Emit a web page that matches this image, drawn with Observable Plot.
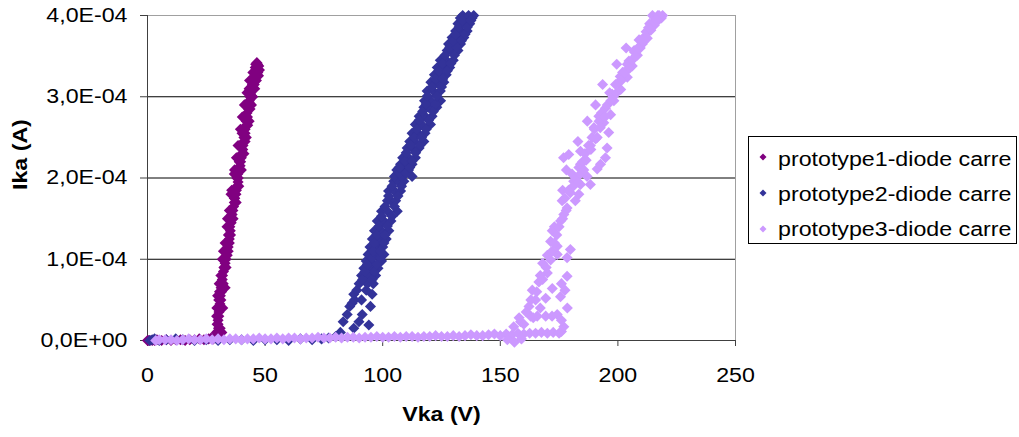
<!DOCTYPE html>
<html>
<head>
<meta charset="utf-8">
<script src="https://cdn.jsdelivr.net/npm/d3@7"></script>
<script src="https://cdn.jsdelivr.net/npm/@observablehq/plot@0.6"></script>
<style>
  html, body { margin: 0; padding: 0; background: #fff; }
  #wrap { position: relative; width: 1019px; height: 437px; font-family: "Liberation Sans", Arial, sans-serif; }
  #wrap svg.plot { position: absolute; left: 0; top: 0; }
  #legendBox { position: absolute; left: 748px; top: 136px; width: 269px; height: 108px; box-sizing: border-box; border: 1px solid #000; background: #fff; }
  .lrow { position: absolute; left: 778px; height: 24px; line-height: 24px; font-size: 20px; color: #000; white-space: nowrap; transform: scaleX(1.16); transform-origin: 0 50%; }
  .lmark { position: absolute; }
</style>
</head>
<body>
<div id="wrap"></div>
<script>
// ---- Data: Vka in V, Ika in units of 1E-04 A ----
const seriesNames = ["prototype1-diode carre", "prototype2-diode carre", "prototype3-diode carre"];
const seriesColors = ["#800080", "#333399", "#CC99FF"];

const xTicks = [0, 50, 100, 150, 200, 250];
const xTickLabels = ["0", "50", "100", "150", "200", "250"];
const yTicks = [0, 1, 2, 3, 4];
const yTickLabels = ["0,0E+00", "1,0E-04", "2,0E-04", "3,0E-04", "4,0E-04"];
const yGrid = [1, 2, 3];
const xTitle = "Vka (V)";
const yTitle = "Ika (A)";

// prototype1
const s1V = [0, 0.5, 1, 2, 3, 4, 6, 8, 10, 12, 14, 16, 18, 20, 22, 24, 26, 27, 28,
  29.0, 29.3, 30.2, 29.6, 30.0, 29.4, 30.4, 29.9, 30.8, 30.3, 31.0, 30.6, 31.3, 31.0, 31.8, 31.9, 32.3, 32.7, 33.0, 33.4,
  33.9, 33.5, 34.3, 34.0, 34.8, 34.4, 35.2, 35.0, 35.6, 35.4, 36.0, 36.3, 36.6, 36.9, 37.1, 37.6, 37.8, 38.0, 38.5, 38.6,
  38.4, 39.1, 39.4, 39.6, 39.9, 40.0, 40.5, 40.6, 40.9, 41.0, 41.5, 41.5, 42.0, 42.0, 42.5, 42.3, 43.0, 43.1, 43.3, 43.6,
  43.9, 44.1, 44.6, 45.0, 45.4, 45.9, 46.3, 46.8, 47.3, 46.9, 46.3, 45.6, 44.7, 44.2, 43.2, 42.0, 41.0, 39.9, 38.8, 37.7,
  36.4, 35.3, 34.3, 33.4, 32.2, 31.2, 30.3, 30.9, 31.6, 46.5, 47.6, 45.8, 47.2, 45.5, 44.5,
  30.0, 31.5, 32.5, 34.8, 35.8, 36.9, 38.0, 39.0, 41.5, 42.6, 43.6, 44.6, 45.4, 43.2, 42.3, 40.2, 37.0, 35.5, 34.0, 32.3, 31.2, 29.8,
  29.5, 30.5, 31.8, 33.0, 33.8, 34.8, 35.8, 36.9, 37.8, 38.5, 39.5, 40.3, 41.2, 42.3, 43.4, 44.8, 46.0, 47.0, 32.0, 33.0];
const s1I = [0, 0, 0, 0, 0, 0.01, 0, 0.01, 0, 0.01, 0.01, 0, 0.01, 0.01, 0.02, 0.01, 0.02, 0.03, 0.02,
  0.05, 0.10, 0.15, 0.20, 0.25, 0.30, 0.35, 0.40, 0.45, 0.50, 0.55, 0.60, 0.65, 0.70, 0.75, 0.80, 0.85, 0.90, 0.95, 1.00,
  1.05, 1.10, 1.15, 1.20, 1.25, 1.30, 1.35, 1.40, 1.45, 1.50, 1.55, 1.60, 1.65, 1.70, 1.75, 1.80, 1.85, 1.90, 1.95, 2.00,
  2.05, 2.10, 2.15, 2.20, 2.25, 2.30, 2.35, 2.40, 2.45, 2.50, 2.55, 2.60, 2.65, 2.70, 2.75, 2.80, 2.85, 2.90, 2.95, 3.00,
  3.05, 3.10, 3.15, 3.20, 3.25, 3.30, 3.35, 3.40, 3.38, 3.30, 3.20, 3.10, 3.00, 2.90, 2.70, 2.50, 2.30, 2.10, 1.90, 1.70,
  1.50, 1.30, 1.10, 0.90, 0.70, 0.50, 0.30, 0.15, 0.10, 3.42, 3.33, 3.36, 3.26, 3.22, 3.12,
  0.20, 0.60, 0.90, 1.20, 1.50, 1.75, 2.00, 2.20, 2.45, 2.65, 2.85, 3.00, 3.15, 3.10, 2.90, 2.55, 2.10, 1.80, 1.50, 1.10, 0.80, 0.55,
  0.40, 0.70, 1.00, 1.20, 1.40, 1.60, 1.85, 2.05, 2.25, 2.40, 2.60, 2.75, 2.90, 3.05, 3.20, 3.30, 3.40, 3.38, 0.40, 0.65];

// prototype2
const s2V = [1, 2, 3, 5, 8, 12, 15, 20, 25, 30, 35, 40, 45, 50, 55, 60, 65, 70, 74, 77, 80,
  82.0, 87.7, 94.1, 83.2, 89.9, 84.9, 91.3, 86.0, 94.8, 87.0, 88.0, 91.0, 87.7, 95.5, 89.0, 93.0,
  90.0, 93.5, 96.0, 91.0, 94.0, 97.0, 92.0, 95.0, 98.0, 93.0, 94.8, 99.5, 93.8, 97.0, 100.5,
  94.6, 98.0, 100.0, 95.6, 98.5, 101.5, 96.5, 99.5, 102.6, 97.7, 100.5, 103.5, 99.5, 102.0, 106.2,
  102.0, 103.5, 105.5, 102.5, 105.0, 107.6, 104.7, 106.5, 109.0, 105.0, 108.0, 112.5, 106.0, 109.0, 111.0,
  107.6, 110.0, 112.5, 108.5, 111.0, 113.9, 110.4, 112.5, 115.5, 111.5, 113.5, 117.5, 112.5, 115.0, 118.0,
  113.9, 116.5, 120.3, 115.5, 118.0, 121.0, 117.5, 119.5, 123.0, 117.8, 120.5, 124.6, 118.9, 121.5, 124.5,
  120.5, 123.0, 126.0, 122.0, 124.5, 127.0, 123.2, 126.0, 128.5, 124.5, 127.0, 130.0, 127.4, 129.0, 132.0,
  128.0, 130.5, 133.1, 129.5, 131.5, 134.5, 131.0, 133.0, 135.9, 132.0, 134.5, 137.0, 133.0, 135.5, 138.0,
  134.0, 136.5, 138.7,
  91.5, 95.5, 92.5, 96.5, 93.5, 97.5, 95.5, 99.0, 96.0, 99.0, 96.5, 100.5, 97.5, 101.0, 98.5, 102.0,
  99.5, 104.0, 101.0, 105.0, 102.5, 106.5, 104.0, 108.0, 107.0, 110.0, 107.0, 111.5, 109.5, 112.5,
  110.0, 114.0, 112.0, 116.0, 113.5, 116.5, 114.5, 118.5, 115.5, 119.5, 117.0, 121.5, 118.5, 122.5,
  119.0, 123.0, 121.0, 125.0, 122.5, 125.5, 124.0, 127.5, 125.5, 129.0, 126.5, 130.5, 128.5, 131.5,
  130.0, 133.5, 131.0, 135.0, 132.5, 136.0, 134.0, 137.5];
const s2I = [0, 0.01, 0.02, 0, 0.01, 0.02, 0.01, 0, 0.01, 0, 0.01, 0.01, 0, 0.01, 0.01, 0, 0.02, 0.01, 0.02, 0.03, 0.05,
  0.10, 0.15, 0.19, 0.23, 0.23, 0.32, 0.32, 0.42, 0.42, 0.46, 0.50, 0.50, 0.57, 0.57, 0.62, 0.62,
  0.70, 0.70, 0.70, 0.80, 0.80, 0.80, 0.89, 0.89, 0.89, 0.98, 0.98, 0.98, 1.06, 1.06, 1.06,
  1.15, 1.15, 1.15, 1.25, 1.25, 1.25, 1.35, 1.35, 1.35, 1.47, 1.47, 1.47, 1.59, 1.59, 1.59,
  1.72, 1.72, 1.72, 1.84, 1.84, 1.84, 1.96, 1.96, 1.96, 2.02, 2.02, 2.02, 2.10, 2.10, 2.10,
  2.17, 2.17, 2.17, 2.25, 2.25, 2.25, 2.37, 2.37, 2.37, 2.45, 2.45, 2.45, 2.55, 2.55, 2.55,
  2.66, 2.66, 2.66, 2.76, 2.76, 2.76, 2.87, 2.87, 2.87, 2.95, 2.95, 2.95, 3.07, 3.07, 3.07,
  3.18, 3.18, 3.18, 3.27, 3.27, 3.27, 3.36, 3.36, 3.36, 3.45, 3.45, 3.45, 3.57, 3.57, 3.57,
  3.65, 3.65, 3.65, 3.73, 3.73, 3.73, 3.81, 3.81, 3.81, 3.90, 3.90, 3.90, 3.97, 3.97, 3.97,
  4.00, 4.00, 4.00,
  0.75, 0.75, 0.85, 0.85, 0.94, 0.94, 1.02, 1.02, 1.10, 1.10, 1.20, 1.20, 1.30, 1.30, 1.41, 1.41,
  1.53, 1.53, 1.65, 1.65, 1.78, 1.78, 1.90, 1.90, 2.06, 2.06, 2.13, 2.13, 2.21, 2.21,
  2.31, 2.31, 2.41, 2.41, 2.50, 2.50, 2.60, 2.60, 2.71, 2.71, 2.82, 2.82, 2.91, 2.91,
  3.01, 3.01, 3.12, 3.12, 3.22, 3.22, 3.32, 3.32, 3.41, 3.41, 3.51, 3.51, 3.61, 3.61,
  3.69, 3.69, 3.77, 3.77, 3.86, 3.86, 3.94, 3.94];

// prototype3
const s3V = [3.5, 5, 7.5, 10, 12.5, 15, 17.5, 20, 22.5, 25, 27.5, 30, 32.5, 35, 37.5, 40, 42.5, 45, 47.5, 50,
  52.5, 55, 57.5, 60, 62.5, 65, 67.5, 70, 72.5, 75, 77.5, 80, 82.5, 85, 87.5, 90, 92.5, 95, 97.5, 100,
  102.5, 105, 107.5, 110, 112.5, 115, 117.5, 120, 122.5, 125, 127.5, 130, 132.5, 135, 137.5, 140, 142.5, 145, 147.5, 150,
  152.5, 155, 157.5, 160, 162.5, 165, 167.5, 170, 172.5, 175, 176, 153, 156, 159,
  155.7, 158.6, 162.2, 162.9, 165.7, 165.0, 169.3, 174.2, 177.0, 163.6, 166.4, 169.3, 172.1, 175.6, 178.4,
  170.0, 171.4, 174.2, 179.8, 178.4, 171.4, 174.2, 172.1, 175.6, 177.0, 178.4, 176.3, 181.9, 183.4, 179.8,
  181.2, 184.1, 188.3, 186.9, 183.4, 191.2, 192.6, 194.7, 184.1, 185.6, 176.9, 179.1, 178.1, 184.1, 188.3,
  195.4, 191.2, 196.1, 189.8, 194.0, 191.9, 196.9, 194.7, 198.3, 197.6, 201.2, 200.4, 204.0, 202.6, 206.1,
  204.7, 208.3, 206.9, 210.4, 211.1, 212.6, 214.0, 215.4, 216.9, 219.0, 214.7,
  163.0, 167.0, 170.0, 174.0, 178.0, 181.0, 185.0, 189.0, 193.0, 198.0, 202.0, 207.0, 212.0, 217.0,
  168.0, 173.0, 176.5, 180.5, 183.0, 187.0, 190.5, 193.5, 199.5, 203.5, 209.0, 213.5, 217.5,
  165.5, 168.0, 169.5, 172.0, 173.0, 175.0, 176.5, 177.5, 179.0, 182.0, 184.0, 186.0, 187.5, 190.0, 192.0,
  195.5, 196.5, 199.0, 201.0, 204.0, 206.0, 209.5, 211.0, 214.0, 215.5, 218.5,
  158.0, 160.0, 161.0, 164.0, 167.0, 172.0, 176.0, 178.5, 176.0, 177.5,
  197.0, 199.5, 201.5, 203.0, 205.0, 207.5, 208.5, 210.0, 212.5, 213.0, 216.0, 217.5, 216.5, 194.5, 192.5, 190.5, 188.5, 186.5, 185.5, 183.0];
const s3I = [0.00, 0.01, 0.01, 0.01, 0.00, 0.01, 0.02, 0.01, 0.01, 0.02, 0.01, 0.02, 0.01, 0.02, 0.02, 0.01, 0.02, 0.02, 0.03, 0.02,
  0.02, 0.03, 0.02, 0.03, 0.03, 0.02, 0.03, 0.03, 0.04, 0.03, 0.03, 0.04, 0.03, 0.04, 0.04, 0.03, 0.04, 0.04, 0.05, 0.04,
  0.04, 0.05, 0.04, 0.05, 0.05, 0.04, 0.05, 0.05, 0.06, 0.05, 0.05, 0.06, 0.05, 0.06, 0.07, 0.06, 0.06, 0.07, 0.08, 0.06,
  0.08, 0.07, 0.09, 0.08, 0.09, 0.09, 0.10, 0.09, 0.10, 0.09, 0.11, 0.01, -0.02, 0.02,
  0.17, 0.23, 0.42, 0.30, 0.30, 0.50, 0.30, 0.32, 0.17, 0.62, 0.72, 0.52, 0.64, 0.54, 0.79,
  0.83, 0.99, 1.06, 1.12, 1.02, 1.22, 1.16, 1.35, 1.47, 1.55, 1.63, 1.72, 1.72, 1.80, 1.82,
  1.96, 1.92, 1.92, 2.02, 2.13, 2.11, 2.17, 2.25, 2.17, 2.21, 2.25, 2.29, 2.10, 2.33, 2.40,
  2.37, 2.50, 2.56, 2.62, 2.68, 2.76, 2.78, 2.86, 2.95, 3.03, 3.09, 3.18, 3.24, 3.30, 3.38,
  3.44, 3.51, 3.57, 3.65, 3.73, 3.79, 3.86, 3.92, 3.98, 4.00, 4.00,
  0.50, 0.80, 1.05, 1.30, 1.60, 1.90, 2.20, 2.50, 2.80, 3.00, 3.30, 3.55, 3.80, 4.00,
  0.95, 1.40, 1.85, 2.05, 2.45, 2.70, 2.90, 3.15, 3.40, 3.60, 3.70, 3.90, 3.95,
  0.60, 0.75, 0.90, 1.10, 1.20, 1.40, 1.50, 1.75, 1.85, 2.00, 2.05, 2.30, 2.40, 2.60, 2.70,
  2.90, 3.05, 3.15, 3.25, 3.40, 3.45, 3.60, 3.68, 3.82, 3.88, 3.97,
  0.28, 0.20, 0.35, 0.28, 0.40, 0.30, 0.25, 0.40, 0.70, 0.62,
  2.95, 3.05, 3.20, 3.30, 3.35, 3.50, 3.60, 3.70, 3.72, 3.85, 3.92, 4.00, 3.95, 2.75, 2.62, 2.48, 2.35, 2.22, 2.10, 1.95];

const sV = [s1V, s2V, s3V];
const sI = [s1I, s2I, s3I];
const rows = sV.map((vs, k) => vs.map((v, j) => ({v, i: sI[k][j], s: seriesNames[k]})));

const font = '"Liberation Sans", Arial, sans-serif';
const axisColor = "#404040";

const chart = Plot.plot({
  width: 1019,
  height: 437,
  marginTop: 15,
  marginBottom: 97,
  marginLeft: 147,
  marginRight: 284,
  style: {fontFamily: font, fontSize: "20px", color: "#000", background: "#fff"},
  x: {domain: [xTicks[0], xTicks[xTicks.length - 1]]},
  y: {domain: [yTicks[0], yTicks[yTicks.length - 1]]},
  marks: [
    Plot.ruleY(yGrid, {stroke: "#000", strokeWidth: 1}),
    Plot.frame({anchor: "top", stroke: "#a0a0a0"}),
    Plot.frame({anchor: "right", stroke: "#a0a0a0"}),
    Plot.axisY({ticks: yTicks, tickFormat: d => yTickLabels[yTicks.indexOf(d)], tickSize: 7, tickPadding: 13, stroke: axisColor, label: null}),
    Plot.axisX({ticks: xTicks, tickFormat: d => xTickLabels[xTicks.indexOf(d)], tickSize: 6, tickPadding: 21, stroke: axisColor, label: null}),
    Plot.frame({anchor: "left", stroke: axisColor}),
    Plot.frame({anchor: "bottom", stroke: axisColor}),
    ...rows.map((data, k) => Plot.dot(data, {x: "v", y: "i", symbol: "diamond2", r: 5, fill: seriesColors[k], stroke: "none"})),
    Plot.text([xTitle], {frameAnchor: "bottom", dy: 80, fontWeight: "bold", fontSize: 20}),
    Plot.text([yTitle], {frameAnchor: "left", dx: -127, dy: 12, rotate: -90, fontWeight: "bold", fontSize: 20})
  ]
});

// reference text is slightly wide: stretch horizontally around each text's anchor
chart.querySelectorAll("text").forEach(t => {
  const tr = t.getAttribute("transform");
  if (tr) t.setAttribute("transform", tr + " scale(1.16,1)");
});

const wrap = document.getElementById("wrap");
wrap.appendChild(chart);

// legend
const box = document.createElement("div");
box.id = "legendBox";
wrap.appendChild(box);
const rowCenters = [157, 193, 229];
const rowTops = [147, 182, 217];
seriesNames.forEach((name, k) => {
  const m = document.createElementNS("http://www.w3.org/2000/svg", "svg");
  m.setAttribute("class", "lmark");
  m.setAttribute("width", 10);
  m.setAttribute("height", 10);
  m.style.left = (763 - 5) + "px";
  m.style.top = (rowCenters[k] - 5) + "px";
  const p = document.createElementNS("http://www.w3.org/2000/svg", "path");
  p.setAttribute("d", "M5,1.5L8.5,5L5,8.5L1.5,5Z");
  p.setAttribute("fill", seriesColors[k]);
  m.appendChild(p);
  wrap.appendChild(m);
  const t = document.createElement("div");
  t.className = "lrow";
  t.style.top = rowTops[k] + "px";
  t.textContent = name;
  wrap.appendChild(t);
});
</script>
</body>
</html>
